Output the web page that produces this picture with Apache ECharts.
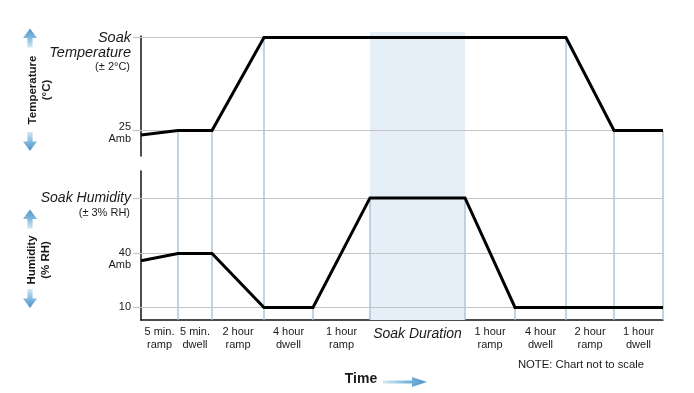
<!DOCTYPE html>
<html><head><meta charset="utf-8">
<script src="https://cdn.jsdelivr.net/npm/echarts@6/dist/echarts.min.js"></script>
<style>html,body{margin:0;padding:0;background:#fff}#c{width:694px;height:393px}</style>
</head><body><div id="c"></div>
<script>
// ---- data (time units are arbitrary: chart not to scale) ----
const boundaries = [0, 37, 71, 123, 172, 229, 324, 374, 425, 473, 522];
const temperature = [22, 25, 25, 85, 85, 85, 85, 85, 85, 25, 25];
const humidity = [36, 40, 40, 10, 10, 71, 71, 10, 10, 10, 10];
const segmentLabels = ['5 min.\nramp', '5 min.\ndwell', '2 hour\nramp', '4 hour\ndwell', '1 hour\nramp',
  'Soak Duration', '1 hour\nramp', '4 hour\ndwell', '2 hour\nramp', '1 hour\ndwell'];
const soakSegment = 5;
const tempTicks = [85, 25];
const tempSoak = 85;
const tempAmbient = 22;
const humTicks = [71, 40, 10];
const humSoak = 71;
const humAmbient = 36;

const FONT = '"Liberation Sans", Arial, Helvetica, sans-serif';
const TXT = '#1a1a1a';
const GRID_C = '#c4c4c4';
const DROP_C = '#9cc0d4';
const xMax = boundaries[boundaries.length - 1];
const mids = boundaries.slice(0, -1).map((b, i) => (b + boundaries[i + 1]) / 2);

const chart = echarts.init(document.getElementById('c'), null, { renderer: 'canvas' });

function hLine(v, x0, x1) { return [{ coord: [x0, v] }, { coord: [x1, v] }]; }
const soakReachT = boundaries[temperature.indexOf(tempSoak)];

const baseGrid = { left: 141, right: 31, containLabel: false, outerBoundsMode: 'none' };

chart.setOption({
  animation: false,
  backgroundColor: '#fff',
  grid: [
    Object.assign({ top: 36, height: 120 }, baseGrid),
    Object.assign({ top: 171, height: 149 }, baseGrid),
    Object.assign({ top: 32, height: 288 }, baseGrid)
  ],
  xAxis: [
    { gridIndex: 0, type: 'value', min: 0, max: xMax, show: false },
    { gridIndex: 1, type: 'value', min: 0, max: xMax,
      axisLine: { show: true, lineStyle: { color: '#111', width: 1.5 } },
      axisTick: { show: false }, splitLine: { show: false },
      axisLabel: {
        customValues: mids, margin: 5, color: TXT, fontFamily: FONT, fontSize: 11, lineHeight: 13,
        formatter: function (v) {
          let k = 0, d = Infinity;
          mids.forEach((m, i) => { if (Math.abs(m - v) < d) { d = Math.abs(m - v); k = i; } });
          if (k === soakSegment) return '{s|' + segmentLabels[k] + '}';
          return segmentLabels[k];
        },
        rich: { s: { fontSize: 14, fontStyle: 'italic', fontFamily: FONT, color: TXT, lineHeight: 16, padding: [2, 0, 0, 0] } }
      } },
    { gridIndex: 2, type: 'value', min: 0, max: xMax, show: false }
  ],
  yAxis: [
    { gridIndex: 0, type: 'value', min: 8.5, max: 86,
      axisLine: { show: true, lineStyle: { color: '#111', width: 1.5 } },
      axisTick: { show: true, customValues: tempTicks, length: 8, lineStyle: { color: GRID_C, width: 1.2 } },
      axisLabel: { show: false }, splitLine: { show: false } },
    { gridIndex: 1, type: 'value', min: 3, max: 86,
      axisLine: { show: true, lineStyle: { color: '#111', width: 1.5 } },
      axisTick: { show: true, customValues: humTicks, length: 8, lineStyle: { color: GRID_C, width: 1.2 } },
      axisLabel: { show: false }, splitLine: { show: false } },
    { gridIndex: 2, type: 'value', min: 0, max: 1, show: false }
  ],
  series: [
    { type: 'line', xAxisIndex: 2, yAxisIndex: 2, z: 0, silent: true, showSymbol: false,
      data: [[boundaries[soakSegment], 0]], lineStyle: { width: 0 },
      markArea: { silent: true, itemStyle: { color: '#e6eef8' },
        data: [[{ coord: [boundaries[soakSegment], 0] }, { coord: [boundaries[soakSegment + 1], 1] }]] } },
    { type: 'line', xAxisIndex: 0, yAxisIndex: 0, z: 1, silent: true, data: [], 
      markLine: { silent: true, symbol: 'none', label: { show: false },
        lineStyle: { color: GRID_C, width: 1.2, type: 'solid' },
        data: [hLine(tempSoak, 0, soakReachT), hLine(tempTicks[1], 0, xMax)] } },
    { type: 'line', xAxisIndex: 1, yAxisIndex: 1, z: 1, silent: true, data: [],
      markLine: { silent: true, symbol: 'none', label: { show: false },
        lineStyle: { color: GRID_C, width: 1.2, type: 'solid' },
        data: humTicks.map(v => hLine(v, 0, xMax)) } },
    { type: 'line', name: 'Temperature', xAxisIndex: 0, yAxisIndex: 0, z: 5, clip: false,
      showSymbol: false, silent: true,
      data: boundaries.map((b, i) => [b, temperature[i]]),
      lineStyle: { color: '#000', width: 3, join: 'miter' } },
    { type: 'line', name: 'Humidity', xAxisIndex: 1, yAxisIndex: 1, z: 5, clip: false,
      showSymbol: false, silent: true,
      data: boundaries.map((b, i) => [b, humidity[i]]),
      lineStyle: { color: '#000', width: 3, join: 'miter' } }
  ]
});

// ---- overlay graphics positioned through the chart's own scales ----
const pT = (x, y) => chart.convertToPixel({ gridIndex: 0 }, [x, y]);
const pH = (x, y) => chart.convertToPixel({ gridIndex: 1 }, [x, y]);
const g = [];
const axisBottom = pH(0, 3)[1];

// drop lines at the segment boundaries
for (let i = 1; i < boundaries.length; i++) {
  const last = i === boundaries.length - 1;
  const sB = (temperature[i] - temperature[i - 1]) / (boundaries[i] - boundaries[i - 1]);
  const sA = last ? null : (temperature[i + 1] - temperature[i]) / (boundaries[i + 1] - boundaries[i]);
  const bend = last || Math.abs(sA - sB) > 1e-9;
  const top = bend ? pT(boundaries[i], temperature[i]) : pH(boundaries[i], humidity[i]);
  g.push({ type: 'line', z: 1, silent: true,
    shape: { x1: top[0], y1: top[1], x2: top[0], y2: axisBottom },
    style: { stroke: DROP_C, lineWidth: 1.3 } });
}

function txt(text, x, y, size, opts) {
  g.push({ type: 'text', z: 10, silent: true, x: x, y: y, rotation: (opts && opts.rot) || 0,
    style: Object.assign({ text: text, x: 0, y: 0, fill: TXT, fontFamily: FONT, fontSize: size,
      align: 'right', verticalAlign: 'middle' }, opts && opts.style) });
}
const LX = 131;
const it = { style: { fontStyle: 'italic' } };
// temperature axis labels
let y = pT(0, tempSoak)[1];
txt('Soak', LX, y + 0.5, 14.5, it);
txt('Temperature', LX, y + 15.5, 14.5, it);
txt('(± 2°C)', LX - 1, y + 29, 11);
y = pT(0, tempTicks[1])[1];
txt('25', LX, y - 3, 11);
txt('Amb', LX, pT(0, tempAmbient)[1] + 4, 11);
// humidity axis labels
y = pH(0, humSoak)[1];
txt('Soak Humidity', LX, y + 0.5, 14, it);
txt('(± 3% RH)', LX - 1, y + 15, 11);
y = pH(0, humTicks[1])[1];
txt('40', LX, y - 0.5, 11);
txt('Amb', LX, pH(0, humAmbient)[1] + 4, 11);
txt('10', LX, pH(0, humTicks[2])[1] - 0.5, 11);

// rotated axis titles
const rotC = { rot: Math.PI / 2, style: { align: 'center', fontWeight: 'bold' } };
txt('Temperature', 33, 90, 11.5, rotC);
txt('(°C)', 47, 90, 11.5, rotC);
txt('Humidity', 32, 260, 11.5, rotC);
txt('(% RH)', 46, 260, 11.5, rotC);

// time label and note
txt('Time', 361, 379, 14, { style: { align: 'center', fontWeight: 'bold' } });
txt('NOTE: Chart not to scale', 581, 365, 11.3, { style: { align: 'center' } });

// arrows
function vArrow(cx, top, up) {
  const h = 19, hh = 9.5, hw = 7, sw = 2.6;
  let pts;
  if (up) pts = [[cx, top], [cx + hw, top + hh], [cx + sw, top + hh], [cx + sw, top + h], [cx - sw, top + h], [cx - sw, top + hh], [cx - hw, top + hh]];
  else pts = [[cx, top + h], [cx + hw, top + h - hh], [cx + sw, top + h - hh], [cx + sw, top], [cx - sw, top], [cx - sw, top + h - hh], [cx - hw, top + h - hh]];
  g.push({ type: 'polygon', z: 10, silent: true, shape: { points: pts },
    style: { fill: new echarts.graphic.LinearGradient(0, up ? 0 : 1, 0, up ? 1 : 0, [
      { offset: 0, color: '#4f95c7' }, { offset: 0.45, color: '#7db6dc' }, { offset: 1, color: '#d3e8f4' }]) } });
}
vArrow(30, 28.5, true);
vArrow(30, 132, false);
vArrow(30, 209.5, true);
vArrow(30, 289, false);
g.push({ type: 'polygon', z: 10, silent: true,
  shape: { points: [[383, 380.5], [412, 380.5], [412, 377], [427, 382], [412, 387], [412, 383.5], [383, 383.5]] },
  style: { fill: new echarts.graphic.LinearGradient(0, 0, 1, 0, [
    { offset: 0, color: '#d3e8f4' }, { offset: 0.55, color: '#7db6dc' }, { offset: 1, color: '#4f95c7' }]) } });

chart.setOption({ graphic: { elements: g } });
</script></body></html>
